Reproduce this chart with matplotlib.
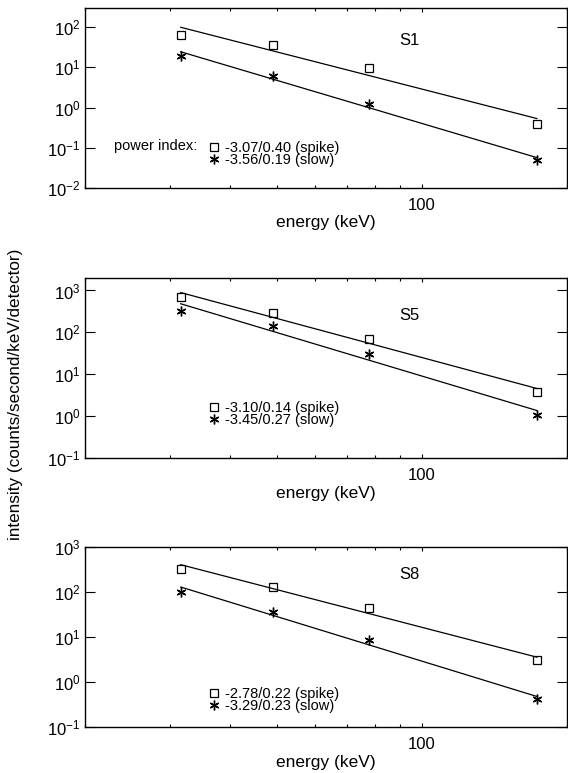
import numpy as np
import matplotlib
matplotlib.use('Agg')
import matplotlib.pyplot as plt
from matplotlib.ticker import FixedLocator, LogLocator, NullFormatter, NullLocator, FuncFormatter
from matplotlib.lines import Line2D

plt.rcParams['font.family'] = ['Liberation Sans', 'DejaVu Sans']
plt.rcParams['mathtext.default'] = 'regular'
plt.rcParams['axes.unicode_minus'] = False

# mean energy of each channel (keV)
energy = [31.6, 49.0, 77.5, 173.2]

# intensities (counts/second/keV/detector)
s1_spike = [65, 35, 9.6, 0.39]
s1_slow = [19.5, 6.2, 1.19, 0.049]
s5_spike = [690, 290, 68, 3.8]
s5_slow = [330, 139, 31, 1.07]
s8_spike = [327, 127, 44, 3.1]
s8_slow = [100, 35, 8.7, 0.41]

# fitted power index and its error: (spike, slow)
s1_index = [-3.07, -3.56]
s1_error = [0.40, 0.19]
s5_index = [-3.10, -3.45]
s5_error = [0.14, 0.27]
s8_index = [-2.78, -3.29]
s8_error = [0.22, 0.23]

panels = [
    ('S1', s1_spike, s1_slow, s1_index, s1_error, (1e-2, 300)),
    ('S5', s5_spike, s5_slow, s5_index, s5_error, (1e-1, 2000)),
    ('S8', s8_spike, s8_slow, s8_index, s8_error, (1e-1, 1000)),
]

# layout (figure fractions)
bottoms = [0.7568, 0.4075, 0.0595]
label_y = [0.82, 0.79, 0.848]
legend_y = [0.115, 0.17, 0.075]


def fit_line(e, y, index):
    # normalisation for a fixed power index, least squares in log space
    le = np.log10(np.array(e) / 100.0)
    ly = np.log10(np.array(y))
    a = np.mean(ly - index * le)
    ends = np.array([e[0], e[-1]])
    return ends, 10 ** (a + index * np.log10(ends / 100.0))


fig = plt.figure(figsize=(5.68, 7.73), dpi=100)

asterisk = (6, 2, 0)

for i, (name, spike, slow, idx, err, ylim) in enumerate(panels):
    ax = fig.add_axes([0.1496, bottoms[i], 0.8486, 0.233])
    ax.set_xscale('log')
    ax.set_yscale('log')

    ax.plot(energy, spike, linestyle='none', marker='s', ms=5.5, mfc='none',
            mec='black', mew=0.9)
    ax.plot(energy, slow, linestyle='none', marker=asterisk, ms=7,
            mec='black', mew=1.0)

    xe, ye = fit_line(energy, spike, idx[0])
    ax.plot(xe, ye, color='black', lw=0.9)
    xe, ye = fit_line(energy, slow, idx[1])
    ax.plot(xe, ye, color='black', lw=0.9)

    ax.set_xlim(20, 200)
    ax.set_ylim(*ylim)

    ax.xaxis.set_major_locator(FixedLocator([100]))
    ax.xaxis.set_major_formatter(FuncFormatter(lambda v, p: f'{v:g}'))
    ax.xaxis.set_minor_locator(LogLocator(base=10, subs=np.arange(2, 10)))
    ax.xaxis.set_minor_formatter(NullFormatter())
    ax.yaxis.set_major_locator(LogLocator(base=10, numticks=10))
    ax.yaxis.set_minor_locator(NullLocator())

    ax.tick_params(which='both', direction='in', top=True, right=True,
                   width=0.8, labelsize=12)
    ax.tick_params(axis='y', which='major', length=6.9, pad=3)
    ax.tick_params(axis='x', which='major', length=2.8, pad=7)
    ax.tick_params(axis='x', which='minor', length=2.2)
    for sp in ax.spines.values():
        sp.set_linewidth(1.0)

    ax.set_xlabel('energy (keV)', fontsize=12.5, labelpad=2)
    ax.text(0.673, label_y[i], name, transform=ax.transAxes, fontsize=12,
            ha='center', va='center')

    handles = [
        Line2D([], [], linestyle='none', marker='s', ms=5.5, mfc='none',
               mec='black', mew=0.9),
        Line2D([], [], linestyle='none', marker=asterisk, ms=7,
               mec='black', mew=1.0),
    ]
    labels = [f'{idx[0]:.2f}/{err[0]:.2f} (spike)',
              f'{idx[1]:.2f}/{err[1]:.2f} (slow)']
    ax.legend(handles, labels, loc='lower left',
              bbox_to_anchor=(0.255, legend_y[i]), frameon=False,
              fontsize=10.5, handlelength=0.9, handletextpad=0.3,
              labelspacing=-0.1, borderpad=0, borderaxespad=0,
              numpoints=1)
    if i == 0:
        ax.text(0.061, 0.232, 'power index:', transform=ax.transAxes,
                fontsize=10.5, ha='left', va='center')

fig.text(0.028, 0.49, 'intensity (counts/second/keV/detector)',
         rotation=90, ha='center', va='center', fontsize=12.3)

fig.savefig('out.png', dpi=100)
